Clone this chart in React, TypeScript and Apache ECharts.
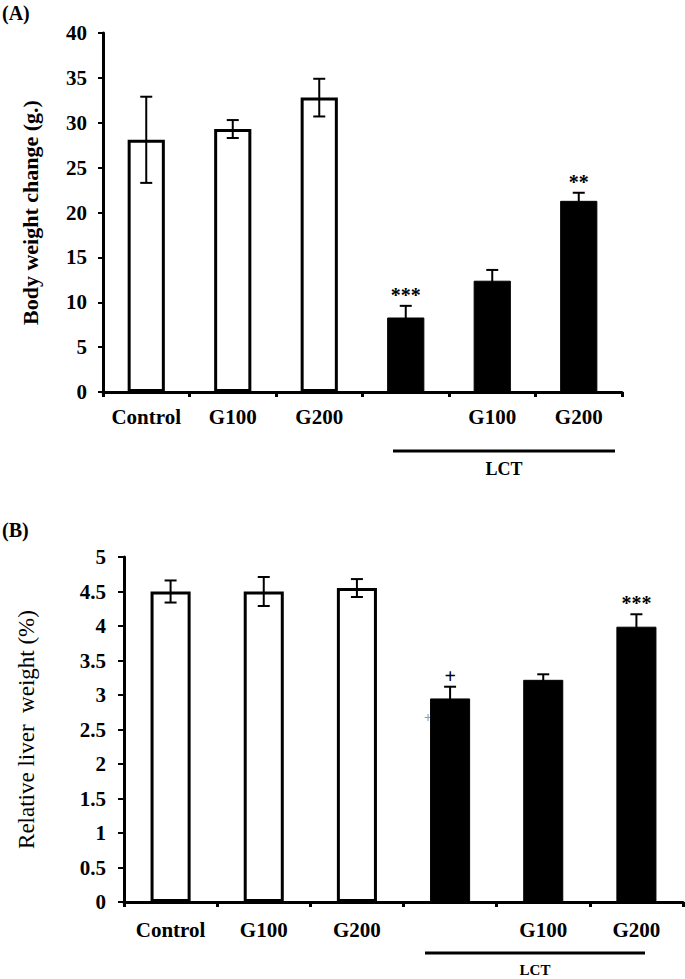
import React, { useEffect, useRef } from "react";
import * as echarts from "echarts";

const categories = ["Control", "G100", "G200", "", "G100", "G200"];
const isLCT = [false, false, false, true, true, true];

const bodyWeightMean = [28.1, 29.3, 32.8, 8.3, 12.4, 21.3];
const bodyWeightErr = [4.8, 1.0, 2.1, 1.3, 1.2, 0.9];
const bodyWeightMarks = ["", "", "", "***", "", "**"];
const bodyWeightTicks = { min: 0, max: 40, interval: 5 };

const liverMean = [4.5, 4.5, 4.55, 2.95, 3.22, 3.99];
const liverErr = [0.16, 0.21, 0.13, 0.17, 0.08, 0.18];
const liverMarks = ["", "", "", "+", "", "***"];
const liverTicks = { min: 0, max: 5, interval: 0.5 };

const FONT = '"Liberation Serif", "Times New Roman", serif';

function errSeries(mean: number[], err: number[], idx: number) {
  return {
    type: "custom",
    xAxisIndex: idx,
    yAxisIndex: idx,
    z: 5,
    data: mean.map((m, i) => [i, m - err[i], m + err[i]]),
    encode: { x: 0, y: [1, 2] },
    renderItem: (params: any, api: any) => {
      const x = api.value(0);
      const lo = api.coord([x, api.value(1)]);
      const hi = api.coord([x, api.value(2)]);
      const cap = 6;
      const st = { stroke: "#000", lineWidth: 2 };
      return {
        type: "group",
        children: [
          { type: "line", shape: { x1: lo[0], y1: lo[1], x2: hi[0], y2: hi[1] }, style: st },
          { type: "line", shape: { x1: hi[0] - cap, y1: hi[1], x2: hi[0] + cap, y2: hi[1] }, style: st },
          { type: "line", shape: { x1: lo[0] - cap, y1: lo[1], x2: lo[0] + cap, y2: lo[1] }, style: st },
        ],
      };
    },
  };
}

function markSeries(mean: number[], err: number[], marks: string[], idx: number) {
  return {
    type: "custom",
    xAxisIndex: idx,
    yAxisIndex: idx,
    z: 6,
    data: mean.map((m, i) => [i, m + err[i]]),
    encode: { x: 0, y: 1 },
    renderItem: (params: any, api: any) => {
      const p = api.coord([api.value(0), api.value(1)]);
      const t = marks[params.dataIndex];
      return {
        type: "text",
        style: {
          text: t,
          x: p[0],
          y: p[1] - 1,
          align: "center",
          verticalAlign: "bottom",
          fill: "#000",
          font: `bold 20px ${FONT}`,
        },
      };
    },
  };
}

function barSeries(mean: number[], idx: number) {
  return {
    type: "bar",
    xAxisIndex: idx,
    yAxisIndex: idx,
    barWidth: "43%",
    data: mean.map((v, i) => ({
      value: v,
      itemStyle: isLCT[i]
        ? { color: "#000", borderColor: "#000", borderWidth: 1 }
        : { color: "#fff", borderColor: "#000", borderWidth: 3 },
    })),
  };
}

const axisLine = { show: true, lineStyle: { color: "#000", width: 3 } };

function xAxis(idx: number, margin: number) {
  return {
    type: "category",
    gridIndex: idx,
    data: categories,
    boundaryGap: true,
    axisLine,
    axisTick: { show: true, interval: 0, length: 5, lineStyle: { color: "#000", width: 3 } },
    axisLabel: {
      color: "#000",
      fontFamily: FONT,
      fontWeight: "bold",
      fontSize: 21,
      margin,
      interval: 0,
      hideOverlap: false,
    },
    splitLine: { show: false },
  };
}

export default function App() {
  const ref = useRef<HTMLDivElement>(null);
  useEffect(() => {
    document.body.style.margin = "0";
    const chart = echarts.init(ref.current!, null, { renderer: "svg" });
    chart.setOption({
      animation: false,
      backgroundColor: "#fff",
      grid: [
        { left: 103, right: 63, top: 33, bottom: 587 },
        { left: 124, right: 2, top: 557, bottom: 77 },
      ],
      xAxis: [xAxis(0, 14), xAxis(1, 17)],
      yAxis: [
        {
          type: "value",
          gridIndex: 0,
          ...bodyWeightTicks,
          name: "Body weight change (g.)",
          nameLocation: "middle",
          nameRotate: 90,
          nameGap: 62,
          nameTextStyle: { color: "#000", fontFamily: FONT, fontWeight: "bold", fontSize: 22 },
          axisLine,
          axisTick: { show: true, length: 5, lineStyle: { color: "#000", width: 2 } },
          axisLabel: { color: "#000", fontFamily: FONT, fontWeight: "bold", fontSize: 21, margin: 16 },
          splitLine: { show: false },
        },
        {
          type: "value",
          gridIndex: 1,
          ...liverTicks,
          name: "Relative liver  weight (%)",
          nameLocation: "middle",
          nameRotate: 90,
          nameGap: 86,
          nameTextStyle: { color: "#000", fontFamily: FONT, fontWeight: "normal", fontSize: 23 },
          axisLine,
          axisTick: { show: true, length: 6, lineStyle: { color: "#000", width: 2 } },
          axisLabel: { color: "#000", fontFamily: FONT, fontWeight: "bold", fontSize: 21, margin: 18 },
          splitLine: { show: false },
        },
      ],
      series: [
        barSeries(bodyWeightMean, 0),
        errSeries(bodyWeightMean, bodyWeightErr, 0),
        markSeries(bodyWeightMean, bodyWeightErr, bodyWeightMarks, 0),
        barSeries(liverMean, 1),
        errSeries(liverMean, liverErr, 1),
        markSeries(liverMean, liverErr, liverMarks, 1),
      ],
      graphic: [
        { type: "text", left: 2, top: 3, style: { text: "(A)", fill: "#000", font: `bold 20px ${FONT}` } },
        { type: "text", left: 2, top: 520, style: { text: "(B)", fill: "#000", font: `bold 20px ${FONT}` } },
        { type: "line", shape: { x1: 393, y1: 451, x2: 615, y2: 451 }, style: { stroke: "#000", lineWidth: 3 } },
        { type: "text", x: 504, y: 469, style: { text: "LCT", align: "center", verticalAlign: "middle", fill: "#000", font: `bold 18px ${FONT}` } },
        { type: "line", shape: { x1: 425, y1: 953, x2: 645, y2: 953 }, style: { stroke: "#000", lineWidth: 3 } },
        { type: "text", x: 535, y: 962, style: { text: "LCT", align: "center", verticalAlign: "top", fill: "#000", font: `bold 15px ${FONT}` } },
        { type: "text", x: 428, y: 717, style: { text: "+", align: "center", verticalAlign: "middle", fill: "#999", font: `bold 14px ${FONT}` } },
      ],
    });
    return () => chart.dispose();
  }, []);
  return <div ref={ref} style={{ width: 685, height: 979 }} />;
}
